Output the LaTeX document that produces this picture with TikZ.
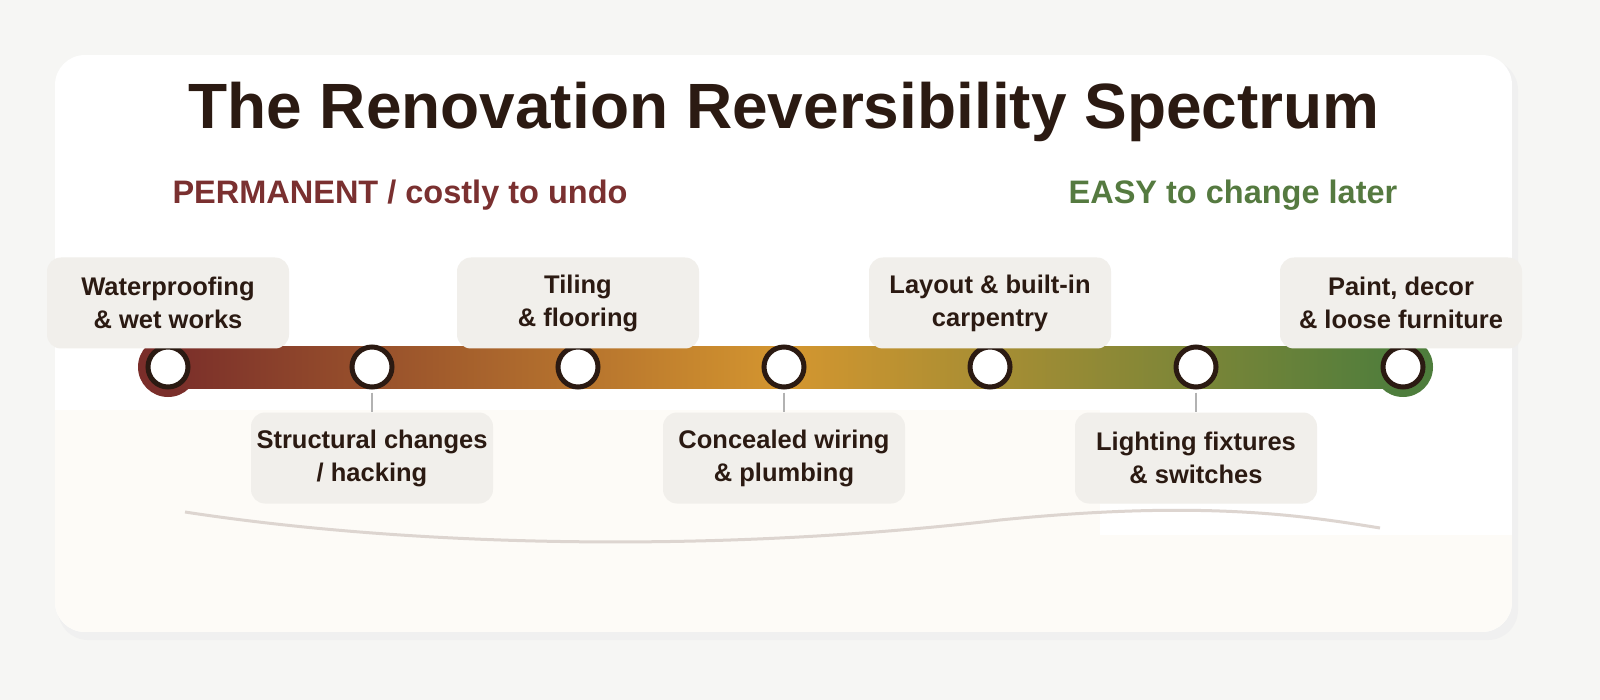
\documentclass[tikz,border=0pt]{standalone}
\usepackage{fontspec}
\setmainfont{Liberation Sans}
\definecolor{bgout}{HTML}{F6F6F4}
\definecolor{cream}{HTML}{FDFBF7}
\definecolor{boxc}{HTML}{F1EFEB}
\definecolor{ink}{HTML}{2B1A12}
\definecolor{redc}{HTML}{7A2E2A}
\definecolor{midc}{HTML}{D4962F}
\definecolor{grnc}{HTML}{4E7D3C}
\definecolor{hred}{HTML}{7A3030}
\definecolor{hgrn}{HTML}{557A40}
\definecolor{wave}{HTML}{DDD5D0}
\tikzset{
  lbl/.style={fill=boxc, rounded corners=14pt, minimum width=242pt, minimum height=91pt, align=center, font=\fontsize{25.5}{33}\selectfont\bfseries, text=ink, inner sep=0pt},
  dot/.style={circle, fill=white, draw=ink, line width=5pt, minimum size=40pt, inner sep=0pt},
  stem/.style={draw=black!30, line width=2pt}
}
\begin{document}
\begin{tikzpicture}[x=1pt,y=-1pt]
\useasboundingbox (0,0) rectangle (1600,700);
\fill[bgout] (0,0) rectangle (1600,700);
\fill[black!6, rounded corners=30pt] (58,60) rectangle (1518,640);
\begin{scope}
\path[clip, rounded corners=30pt] (55,55) rectangle (1512,632);
\fill[white] (55,55) rectangle (1512,632);
\fill[cream] (55,410) rectangle (1100,632);
\fill[cream] (1100,535) rectangle (1512,632);
\end{scope}
\node[font=\fontsize{64}{76}\selectfont\bfseries, text=ink] (title) at (784,112) {The Renovation Reversibility Spectrum};
\node[font=\fontsize{32.5}{38}\selectfont\bfseries, text=hred] (hl) at (400,195) {PERMANENT / costly to undo};
\node[font=\fontsize{32.5}{38}\selectfont\bfseries, text=hgrn] (hr) at (1233,195) {EASY to change later};
\draw[wave, line width=3pt] (185,512) .. controls (400,545) and (700,555) .. (1000,520) .. controls (1200,500) and (1300,515) .. (1380,528);
\fill[redc] (168,367) circle (30pt);
\fill[grnc] (1403,367) circle (30pt);
\shade[left color=redc, right color=grnc, middle color=midc] (168,347) rectangle (1403,388);
\foreach \n/\x in {a/168,b/372,c/578,d/784,e/990,f/1196,g/1403}
  \node[dot] (\n) at (\x,367) {};
\node[lbl] (la) at (168,303) {Waterproofing\\\& wet works};
\node[lbl] (lc) at (578,303) {Tiling\\\& flooring};
\node[lbl] (le) at (990,303) {Layout \& built-in\\carpentry};
\node[lbl] (lg) at (1401,303) {Paint, decor\\\& loose furniture};
\node[lbl] (lb) at (372,458) {Structural changes\\/ hacking};
\node[lbl] (ld) at (784,458) {Concealed wiring\\\& plumbing};
\node[lbl] (lf) at (1196,458) {Lighting fixtures\\\& switches};
\foreach \d/\l in {b/lb,d/ld,f/lf}
  \draw[stem] (\d.south) ++(0,3) -- (\l.north);
\end{tikzpicture}
\end{document}
